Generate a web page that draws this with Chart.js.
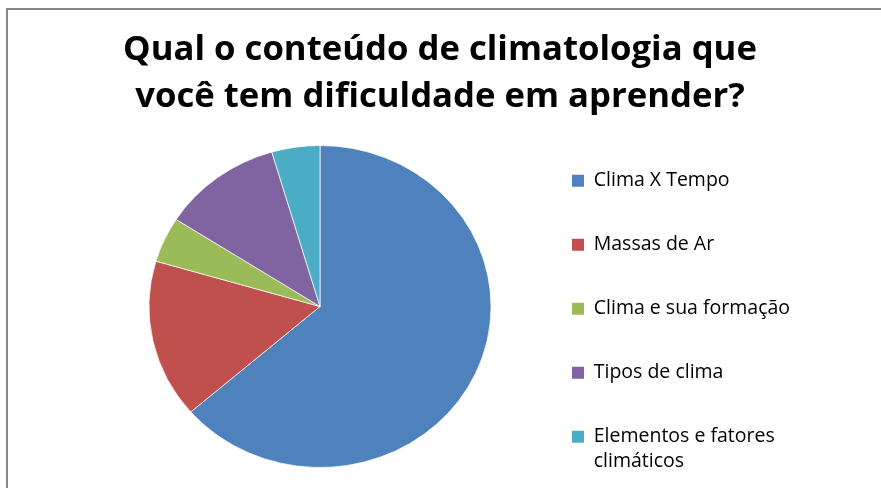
<!DOCTYPE html>
<html><head><meta charset="utf-8">
<script src="https://cdn.jsdelivr.net/npm/chart.js@4.4.1/dist/chart.umd.min.js"></script>
<style>
html,body{margin:0;padding:0;background:#fff;}
#wrap{position:relative;width:881px;height:488px;overflow:hidden;}
#frame{position:absolute;left:6px;top:8px;width:900px;height:500px;border-top:2px solid #878787;border-left:2px solid #878787;}
canvas{position:absolute;left:0;top:0;}
</style></head><body>
<div id="wrap"><div id="frame"></div><canvas id="c" width="881" height="488"></canvas></div>
<script>
const titleLines = ['Qual o conteúdo de climatologia que', 'você tem dificuldade em aprender?'];
const categories = ['Clima X Tempo', 'Massas de Ar', 'Clima e sua formação', 'Tipos de clima', 'Elementos e fatores climáticos'];
const values = [28, 7, 2, 5, 2];
const colors = ['#4F81BD', '#C0504D', '#9BBB59', '#8064A2', '#4BACC6'];

function wrapLabel(s, maxLen) {
  const words = s.split(' '); const lines = []; let cur = '';
  words.forEach(w => {
    const t = cur ? cur + ' ' + w : w;
    if (t.length > maxLen && cur) { lines.push(cur); cur = w; } else cur = t;
  });
  lines.push(cur);
  while (lines.length < 2) lines.push('');
  return lines;
}

const stretch = {
  id: 'stretch',
  beforeDatasetsDraw(chart) {
    const a = chart.getDatasetMeta(0).data[0];
    const ctx = chart.ctx;
    ctx.save(); ctx.translate(a.x, 0); ctx.scale(171 / 161, 1); ctx.translate(-a.x, 0);
  },
  afterDatasetsDraw(chart) { chart.ctx.restore(); }
};

new Chart(document.getElementById('c'), {
  type: 'pie',
  data: { labels: categories, datasets: [{ data: values, backgroundColor: colors, borderColor: '#ffffff', borderWidth: 0.7 }] },
  options: {
    responsive: false, devicePixelRatio: 1, animation: false,
    radius: 161,
    layout: { padding: { left: 82, right: 83, top: 0, bottom: -3 } },
    plugins: {
      title: { display: true, text: titleLines, color: '#000', font: { family: 'Open Sans', size: 34.7, weight: 'bold', lineHeight: '47px' }, padding: { top: 27, bottom: 4 } },
      legend: {
        position: 'right', align: 'end', fullSize: true, maxWidth: 240,
        labels: {
          boxWidth: 12, boxHeight: 12, padding: 14, color: '#262626',
          font: { family: 'Open Sans', size: 19.5, lineHeight: '25px' },
          generateLabels(chart) {
            return categories.map((c, i) => ({ text: wrapLabel(c, 20), fillStyle: colors[i], strokeStyle: colors[i], lineWidth: 0, hidden: false, index: i }));
          }
        }
      },
      tooltip: { enabled: false }
    }
  },
  plugins: [stretch]
});
</script></body></html>
